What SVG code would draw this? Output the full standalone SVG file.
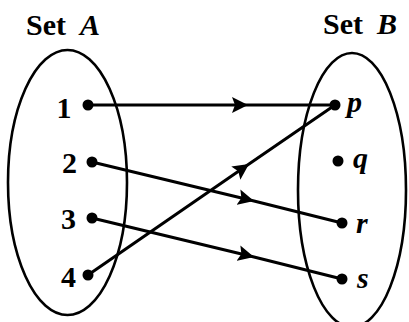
<svg xmlns="http://www.w3.org/2000/svg" width="409" height="322" viewBox="0 0 409 322">
<style>
.set{fill:none;stroke:#000;stroke-width:2.6}
.edge{fill:none;stroke:#000;stroke-width:3;marker-mid:url(#arr)}
.dot{fill:#000}
.t{font-family:"Liberation Serif","Times New Roman",serif;font-size:30px;font-weight:bold;fill:#000}
.i{font-style:italic}
</style>
<defs>
<marker id="arr" viewBox="0 0 16 16" refX="16" refY="8" markerWidth="16" markerHeight="16" markerUnits="userSpaceOnUse" orient="auto">
<path d="M0,0 L16,8 L0,16 L3,8 Z" fill="#000"/>
</marker>
</defs>
<rect width="409" height="322" fill="#fff"/>
<g id="setA">
<ellipse class="set" cx="67.5" cy="182.5" rx="59.5" ry="132.5"/>
<text class="t" x="26" y="35">Set<tspan class="i" x="80">A</tspan></text>
</g>
<g id="setB">
<ellipse class="set" cx="352" cy="190" rx="54" ry="137"/>
<text class="t" x="323" y="34">Set<tspan class="i" x="377">B</tspan></text>
</g>
<g id="connectors">
<path class="edge" d="M88,105 L248,105 L335,105"/>
<path class="edge" d="M88,275 L249,164 L335,105"/>
<path class="edge" d="M92,162 L254,201 L342,223"/>
<path class="edge" d="M92,218 L254,257 L342,279"/>
</g>
<g id="n1"><circle class="dot" cx="88" cy="105" r="5.5"/><text class="t" x="64" y="118" text-anchor="middle">1</text></g>
<g id="n2"><circle class="dot" cx="92" cy="162" r="5.5"/><text class="t" x="69.5" y="173" text-anchor="middle">2</text></g>
<g id="n3"><circle class="dot" cx="92" cy="218" r="5.5"/><text class="t" x="68.5" y="229" text-anchor="middle">3</text></g>
<g id="n4"><circle class="dot" cx="88" cy="275" r="5.5"/><text class="t" x="68.5" y="287" text-anchor="middle">4</text></g>
<g id="np"><circle class="dot" cx="335" cy="105" r="5.5"/><text class="t i" x="347" y="112">p</text></g>
<g id="nq"><circle class="dot" cx="338" cy="161" r="5.5"/><text class="t i" x="353" y="168">q</text></g>
<g id="nr"><circle class="dot" cx="342" cy="223" r="5.5"/><text class="t i" x="356" y="233">r</text></g>
<g id="ns"><circle class="dot" cx="342" cy="279" r="5.5"/><text class="t i" x="357" y="288">s</text></g>
</svg>
